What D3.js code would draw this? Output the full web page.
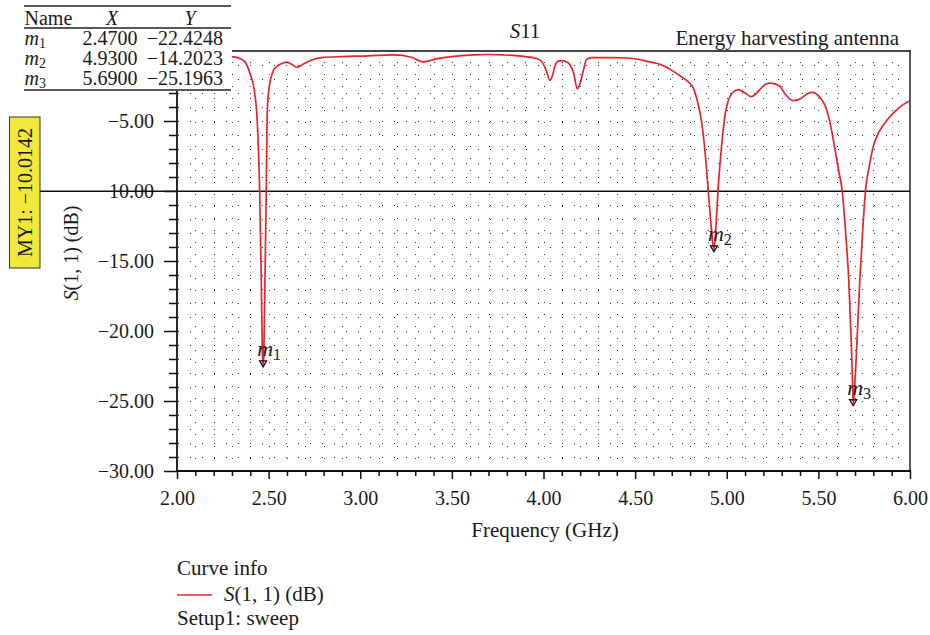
<!DOCTYPE html>
<html>
<head>
<meta charset="utf-8">
<script src="https://cdn.jsdelivr.net/npm/d3@7"></script>
<style>
  html, body { margin: 0; padding: 0; background: #fff; }
  svg text { font-family: "Liberation Serif", "Times New Roman", serif; fill: #1a1a1a; }
</style>
</head>
<body>
<svg id="chart" width="930" height="635"></svg>
<script>
// ---- data ----
const freq = [2.300,2.340,2.370,2.398,2.425,2.438,2.451,2.460,2.466,2.470,2.474,2.480,2.487,2.492,2.500,2.526,2.550,2.572,2.598,2.625,2.653,2.688,2.735,2.790,2.900,3.000,3.180,3.280,3.344,3.420,3.500,3.616,3.700,3.780,3.900,3.962,3.990,4.015,4.035,4.050,4.062,4.080,4.098,4.125,4.144,4.165,4.184,4.200,4.216,4.235,4.262,4.380,4.450,4.516,4.580,4.635,4.690,4.726,4.760,4.790,4.817,4.840,4.862,4.880,4.898,4.915,4.930,4.942,4.953,4.967,4.980,4.993,5.007,5.030,5.062,5.100,5.135,5.160,5.180,5.210,5.235,5.262,5.289,5.320,5.362,5.410,5.440,5.471,5.500,5.535,5.560,5.589,5.610,5.630,5.650,5.666,5.680,5.686,5.690,5.700,5.715,5.726,5.742,5.757,5.778,5.798,5.830,5.871,5.920,5.960,6.000];
const s11 = [-0.40,-0.52,-0.76,-1.60,-3.10,-5.00,-10.0,-16.4,-21.6,-22.42,-21.6,-16.4,-10.0,-4.6,-2.9,-1.4,-1.05,-0.90,-0.80,-0.95,-1.16,-0.95,-0.64,-0.47,-0.40,-0.36,-0.28,-0.45,-0.78,-0.55,-0.40,-0.28,-0.25,-0.28,-0.40,-0.54,-0.75,-1.4,-2.1,-1.7,-1.1,-0.72,-0.69,-0.78,-0.98,-1.6,-2.7,-2.3,-1.47,-0.6,-0.47,-0.47,-0.50,-0.59,-0.78,-0.95,-1.3,-1.6,-1.9,-2.2,-2.64,-3.6,-5.0,-7.0,-9.8,-12.5,-14.20,-12.3,-9.8,-7.5,-5.7,-4.4,-3.6,-3.0,-2.76,-3.0,-3.26,-3.05,-2.76,-2.4,-2.3,-2.35,-2.5,-3.1,-3.55,-3.35,-3.05,-2.95,-3.2,-3.86,-4.9,-6.9,-8.5,-10.0,-13.2,-16.4,-21.0,-23.5,-25.20,-23.5,-19.5,-16.4,-12.8,-10.0,-8.2,-6.9,-5.8,-5.0,-4.3,-3.85,-3.55];

const markerNames = ["1", "2", "3"];
const markerX = [2.4700, 4.9300, 5.6900];
const markerY = [-22.4248, -14.2023, -25.1963];

const yMajorTicks = [-30, -25, -20, -15, -10, -5];
const xMajorTicks = [2.0, 2.5, 3.0, 3.5, 4.0, 4.5, 5.0, 5.5, 6.0];
const myLineValue = -10.0142;

const titleText = "S11";
const subtitleText = "Energy harvesting antenna";
const xLabel = "Frequency (GHz)";
const yLabel = "(1, 1) (dB)";

// ---- drawing ----
const svg = d3.select("#chart");
const x = d3.scaleLinear().domain([2, 6]).range([177, 910]);
const y = d3.scaleLinear().domain([-30, 0]).range([471, 51]);
const FS = 20;
const LFS = 21;

// dotted grid
const gGrid = svg.append("g");
const yMinor = d3.range(-29, 0, 1);
const xMinor = d3.range(21, 60, 1).map(d => d / 10);
gGrid.selectAll("line.h").data(yMinor).join("line")
  .attr("x1", x(2) + 0.5).attr("x2", x(6))
  .attr("y1", d => Math.round(y(d)) + 0.5).attr("y2", d => Math.round(y(d)) + 0.5)
  .attr("stroke", "#333").attr("stroke-width", 1)
  .attr("stroke-dasharray", "1,11").attr("shape-rendering", "crispEdges");
gGrid.selectAll("line.v").data(xMinor).join("line")
  .attr("x1", d => Math.round(x(d)) + 0.5).attr("x2", d => Math.round(x(d)) + 0.5)
  .attr("y1", y(-30)).attr("y2", y(0))
  .attr("stroke", "#333").attr("stroke-width", 1)
  .attr("stroke-dasharray", "1,11").attr("shape-rendering", "crispEdges");

// frame top/right
svg.append("line").attr("x1", x(2)).attr("x2", x(6) + 1).attr("y1", y(0)).attr("y2", y(0))
  .attr("stroke", "#444").attr("stroke-width", 2);
svg.append("line").attr("x1", x(6)).attr("x2", x(6)).attr("y1", y(0)).attr("y2", y(-30))
  .attr("stroke", "#222").attr("stroke-width", 1.5);

// axes
const yAxis = d3.axisLeft(y).tickValues(yMajorTicks).tickSize(13).tickPadding(10)
  .tickFormat(d3.format(".2f"));
const gy = svg.append("g").attr("transform", `translate(${x(2)},0)`).call(yAxis);
gy.select(".domain").remove();
gy.selectAll(".tick line").attr("stroke", "#111").attr("stroke-width", 1.5);
gy.selectAll(".tick text").attr("font-size", FS).attr("font-family", "Liberation Serif").attr("fill", "#1a1a1a");
const gyMinor = svg.append("g").attr("transform", `translate(${x(2)},0)`)
  .call(d3.axisLeft(y).tickValues(d3.range(-29, 0, 1).filter(d => d % 5 !== 0)).tickSize(8).tickFormat(""));
gyMinor.select(".domain").remove();
gyMinor.selectAll(".tick line").attr("stroke", "#111").attr("stroke-width", 1.5);

const xAxis = d3.axisBottom(x).tickValues(xMajorTicks).tickSize(8).tickPadding(12)
  .tickFormat(d3.format(".2f"));
const gx = svg.append("g").attr("transform", `translate(0,${y(-30)})`).call(xAxis);
gx.select(".domain").remove();
gx.selectAll(".tick line").attr("stroke", "#111").attr("stroke-width", 1.5);
gx.selectAll(".tick text").attr("font-size", FS).attr("font-family", "Liberation Serif").attr("fill", "#1a1a1a");
const gxMinor = svg.append("g").attr("transform", `translate(0,${y(-30)})`)
  .call(d3.axisBottom(x).tickValues(xMinor.filter(d => Math.abs(d * 2 - Math.round(d * 2)) > 1e-6)).tickSize(5).tickFormat(""));
gxMinor.select(".domain").remove();
gxMinor.selectAll(".tick line").attr("stroke", "#111").attr("stroke-width", 1.5);

// axis lines
svg.append("line").attr("x1", x(2)).attr("x2", x(2)).attr("y1", y(0)).attr("y2", y(-30) + 1)
  .attr("stroke", "#111").attr("stroke-width", 1.8);
svg.append("line").attr("x1", x(2)).attr("x2", x(6) + 1).attr("y1", y(-30)).attr("y2", y(-30))
  .attr("stroke", "#111").attr("stroke-width", 1.8);

// MY1 line
svg.append("line").attr("x1", 40).attr("x2", x(6)).attr("y1", y(myLineValue)).attr("y2", y(myLineValue))
  .attr("stroke", "#111").attr("stroke-width", 1.5);

// curve
const pts = freq.map((f, i) => [f, s11[i]]);
svg.append("path").datum(pts)
  .attr("d", d3.line().x(d => x(d[0])).y(d => y(d[1])).curve(d3.curveMonotoneX))
  .attr("fill", "none").attr("stroke", "#e8242b").attr("stroke-width", 1.7);

// markers
markerX.forEach((mx, i) => {
  const px = x(mx), py = y(markerY[i]);
  svg.append("path")
    .attr("d", `M${px - 3.5},${py - 4} L${px + 3.5},${py - 4} L${px},${py + 2} Z`)
    .attr("fill", "none").attr("stroke", "#111").attr("stroke-width", 1.3);
  const t = svg.append("text").attr("x", px - 6).attr("y", py - 9)
    .attr("font-size", 22).attr("font-style", "italic");
  t.append("tspan").text("m");
  t.append("tspan").attr("dy", 4).attr("font-size", 16).attr("font-style", "normal").text(markerNames[i]);
});

// titles
const tt = svg.append("text").attr("x", 525).attr("y", 38).attr("text-anchor", "middle").attr("font-size", LFS);
tt.append("tspan").attr("font-style", "italic").text(titleText.slice(0, 1));
tt.append("tspan").text(titleText.slice(1));
svg.append("text").attr("x", 899).attr("y", 45).attr("text-anchor", "end").attr("font-size", LFS).text(subtitleText);

// axis labels
svg.append("text").attr("x", 545).attr("y", 537).attr("text-anchor", "middle").attr("font-size", LFS).text(xLabel);
const yl = svg.append("text").attr("transform", "translate(78,253) rotate(-90)").attr("text-anchor", "middle").attr("font-size", FS);
yl.append("tspan").attr("font-style", "italic").text("S");
yl.append("tspan").text(yLabel);

// marker table (covers top-left of plot)
svg.append("rect").attr("x", 0).attr("y", 0).attr("width", 232).attr("height", 91).attr("fill", "#fff");
svg.append("line").attr("x1", 24).attr("x2", 231).attr("y1", 6).attr("y2", 6).attr("stroke", "#222").attr("stroke-width", 1.5);
svg.append("line").attr("x1", 24).attr("x2", 231).attr("y1", 28).attr("y2", 28).attr("stroke", "#222").attr("stroke-width", 1.3);
svg.append("line").attr("x1", 24).attr("x2", 231).attr("y1", 90).attr("y2", 90).attr("stroke", "#222").attr("stroke-width", 1.5);
svg.append("text").attr("x", 24.5).attr("y", 25).attr("font-size", FS).text("Name");
svg.append("text").attr("x", 112).attr("y", 25).attr("text-anchor", "middle").attr("font-size", FS).attr("font-style", "italic").text("X");
svg.append("text").attr("x", 190).attr("y", 25).attr("text-anchor", "middle").attr("font-size", FS).attr("font-style", "italic").text("Y");
markerX.forEach((mx, i) => {
  const by = 45 + i * 20;
  const n = svg.append("text").attr("x", 24.5).attr("y", by).attr("font-size", FS);
  n.append("tspan").attr("font-style", "italic").text("m");
  n.append("tspan").attr("dy", 3).attr("font-size", 14).text(markerNames[i]);
  svg.append("text").attr("x", 137.5).attr("y", by).attr("text-anchor", "end").attr("font-size", FS).text(d3.format(".4f")(mx));
  svg.append("text").attr("x", 223).attr("y", by).attr("text-anchor", "end").attr("font-size", FS).text(d3.format(".4f")(markerY[i]));
});

// MY1 box
svg.append("rect").attr("x", 9.5).attr("y", 117).attr("width", 30.5).attr("height", 151)
  .attr("fill", "#f1e83c").attr("stroke", "#333").attr("stroke-width", 1);
svg.append("text").attr("transform", "translate(32,192.5) rotate(-90)").attr("text-anchor", "middle")
  .attr("font-size", FS).text("MY1: " + d3.format(".4f")(myLineValue));

// legend
svg.append("text").attr("x", 177).attr("y", 575).attr("font-size", LFS).text("Curve info");
svg.append("line").attr("x1", 177).attr("x2", 212).attr("y1", 595).attr("y2", 595).attr("stroke", "#e8242b").attr("stroke-width", 1.3);
const lg = svg.append("text").attr("x", 224).attr("y", 601).attr("font-size", LFS);
lg.append("tspan").attr("font-style", "italic").text("S");
lg.append("tspan").text("(1, 1) (dB)");
svg.append("text").attr("x", 177).attr("y", 625).attr("font-size", LFS).text("Setup1: sweep");
</script>
</body>
</html>
